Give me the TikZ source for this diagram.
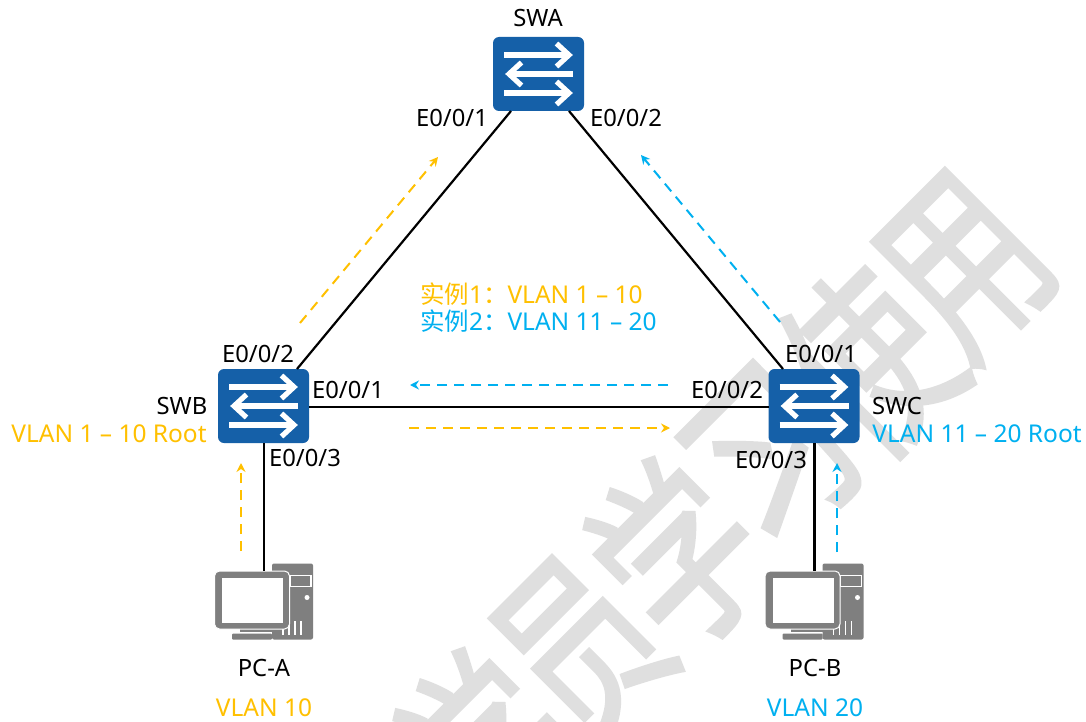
\documentclass[tikz,border=0pt]{standalone}
\usepackage{fontspec}
\usepackage{graphicx}
\usetikzlibrary{arrows.meta,calc}
\setmainfont{Noto Sans}
\newfontfamily\cjk{Noto Sans CJK SC}
\newfontfamily\wmfont[FakeBold=2]{Noto Sans CJK SC}
\definecolor{swblue}{HTML}{1560A8}
\definecolor{pcgray}{HTML}{7F7F7F}
\definecolor{vorange}{HTML}{FFC000}
\definecolor{vblue}{HTML}{00B0F0}
\definecolor{wmgray}{HTML}{DFDFDF}
\tikzset{
  x=1pt,y=-1pt,
  wmchar/.style={rotate=45,text=wmgray,inner sep=0,outer sep=0,font=\wmfont\fontsize{198}{198}\selectfont},
  swbox/.style={rectangle,rounded corners=6pt,fill=swblue,draw=none,minimum width=91pt,minimum height=74pt,inner sep=0,outer sep=0},
  pcbox/.style={rectangle,rounded corners=5pt,fill=pcgray,draw=white,line width=1pt,minimum width=75pt,minimum height=58pt,inner sep=0,outer sep=0},
  link/.style={draw=black,line width=2.2pt},
  lab/.style={inner sep=0,outer sep=0,text=black,font=\fontsize{23.8}{28}\selectfont},
  olab/.style={lab,text=vorange,font=\fontsize{24.5}{28}\selectfont},
  blab/.style={lab,text=vblue,font=\fontsize{24.5}{28}\selectfont},
  flow/.style={line width=2pt,dash pattern=on 10pt off 7pt,-{Stealth[length=9pt,width=9pt,inset=3pt]}},
  oflow/.style={flow,draw=vorange,fill=none},
  bflow/.style={flow,draw=vblue,fill=none},
  pics/swarrows/.style={code={
    \draw[white,line width=5.2pt] (-34.5,-19) -- (30,-19);
    \draw[white,line width=5.2pt,line join=miter] (18,-30.5) -- (30.5,-19) -- (18,-7.5);
    \draw[white,line width=5.2pt] (34.5,0) -- (-29,0);
    \draw[white,line width=5.2pt,line join=miter] (-17,-11.5) -- (-29.5,0) -- (-17,11.5);
    \draw[white,line width=5.2pt] (-34.5,19) -- (30,19);
    \draw[white,line width=5.2pt,line join=miter] (18,7.5) -- (30.5,19) -- (18,30.5);
  }},
  pics/pcicon/.style={code={
    \fill[pcgray,rounded corners=2pt] (20,-36.5) rectangle (61,39.5);
    \draw[white,line width=1.2pt] (38,-24.5) rectangle (59,-13.5);
    \fill[white] (55,-2.5) circle (2.5);
    \foreach \vx in {31,37,43,49}{\draw[white,line width=1.2pt] (\vx,21) -- (\vx,35);}
    \fill[pcgray] (-12,28) rectangle (20,32);
    \fill[pcgray,rounded corners=1pt] (-20,33.5) rectangle (20,39.5);
  }},
  pics/pcscreen/.style={code={
    \fill[white] (-30,-22.5) rectangle (31,22.5);
  }}
}
\begin{document}
\begin{tikzpicture}
\useasboundingbox (0,0) rectangle (1086,722);
\clip (0,0) rectangle (1086,722);
\fill[white] (0,0) rectangle (1086,722);
% watermark
\node[wmchar] (wa) at (487,744) {\scalebox{0.72}[1]{学}};
\node[wmchar] (wb) at (582,649) {\scalebox{0.72}[1]{员}};
\node[wmchar] (wc) at (677,553) {\scalebox{0.72}[1]{学}};
\node[wmchar] (wd) at (773,458) {\scalebox{0.72}[1]{习}};
\node[wmchar] (we) at (868,362) {\scalebox{0.72}[1]{使}};
\node[wmchar] (wf) at (966,267) {\scalebox{0.72}[1]{用}};
% switches
\node[swbox] (swa) at (538.5,74) {};
\node[swbox] (swb) at (263.5,406) {};
\node[swbox] (swc) at (814,406) {};
\pic at (swa) {swarrows};
\pic at (swb) {swarrows};
\pic at (swc) {swarrows};
% PCs
\pic at (252,600) {pcicon};
\pic at (802.5,600) {pcicon};
\node[pcbox] (pca) at (252,600) {};
\node[pcbox] (pcb) at (802.5,600) {};
\pic at (pca) {pcscreen};
\pic at (pcb) {pcscreen};
% links
\draw[link] ($(swa.south west)+(18,0)$) -- ($(swb.north east)+(-12,0)$);
\draw[link] ($(swa.south east)+(-15,0)$) -- ($(swc.north west)+(14.5,0)$);
\draw[link] ([yshift=-0.7pt]swb.east) -- ([yshift=-0.7pt]swc.west);
\draw[link] ([xshift=0.5pt]swb.south) -- ([xshift=0.5pt]swb.south |- pca.north);
\draw[link] ([xshift=0.5pt]swc.south) -- ([xshift=0.5pt]swc.south |- pcb.north);
% flow arrow end points
\coordinate (fa1) at (300,323); \coordinate (fa2) at (438,157);
\coordinate (fb1) at (780,322); \coordinate (fb2) at (641,155);
\coordinate (fc1) at (668,385); \coordinate (fc2) at (410,385);
\coordinate (fd1) at (409,428); \coordinate (fd2) at (670,428);
\coordinate (fe1) at (241,551); \coordinate (fe2) at (241,463);
\coordinate (ff1) at (837,552); \coordinate (ff2) at (837,463);
\draw[oflow] (fa1) -- (fa2);
\draw[bflow] (fb1) -- (fb2);
\draw[bflow] (fc1) -- (fc2);
\draw[oflow] (fd1) -- (fd2);
\draw[oflow] (fe1) -- (fe2);
\draw[bflow] (ff1) -- (ff2);
% labels
\node[lab] (tswa) at (538,18) {SWA};
\node[lab] (ta1) at (452,118) {E0/0/1};
\node[lab] (ta2) at (626,118) {E0/0/2};
\node[olab,anchor=west] (tinst1) at (420,294) {{\cjk 实例}1{\cjk ：}VLAN 1 – 10};
\node[blab,anchor=west] (tinst2) at (420,321) {{\cjk 实例}2{\cjk ：}VLAN 11 – 20};
\node[lab] (tb2) at (258,354) {E0/0/2};
\node[lab] (tb1) at (348,390) {E0/0/1};
\node[lab] (tswb) at (182,406) {SWB};
\node[olab] (trb) at (109,434) {VLAN 1 – 10 Root};
\node[lab] (tb3) at (305,458) {E0/0/3};
\node[lab] (tc1) at (821,354) {E0/0/1};
\node[lab] (tc2) at (727,390) {E0/0/2};
\node[lab] (tswc) at (897,406) {SWC};
\node[blab] (trc) at (977,434) {VLAN 11 – 20 Root};
\node[lab] (tc3) at (771,460) {E0/0/3};
\node[lab] (tpca) at (264,668) {PC-A};
\node[lab] (tpcb) at (815,668) {PC-B};
\node[olab] (tva) at (264,708) {VLAN 10};
\node[blab] (tvb) at (815,708) {VLAN 20};
\end{tikzpicture}
\end{document}
